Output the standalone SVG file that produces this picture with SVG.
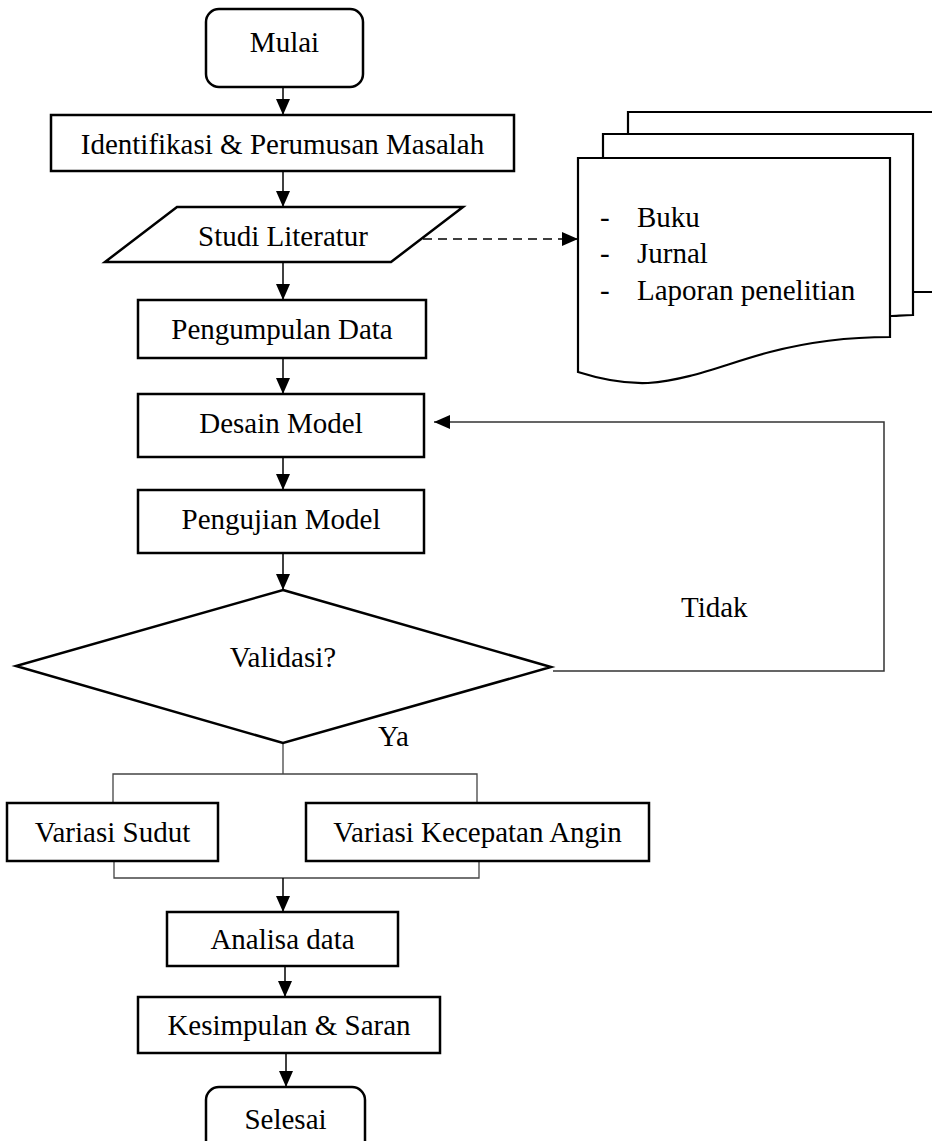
<svg xmlns="http://www.w3.org/2000/svg" width="932" height="1141" viewBox="0 0 932 1141">
<style>
.box{fill:#fff;stroke:#000;stroke-width:2.5}
.doc{fill:#fff;stroke:#000;stroke-width:2.2}
.t{font-family:"Liberation Serif","Times New Roman",serif;font-size:29px;fill:#000}
.c{text-anchor:middle}
.ln{fill:none;stroke:#000;stroke-width:1.5}
.br{fill:none;stroke:#444;stroke-width:1.3}
.lp{fill:none;stroke:#333;stroke-width:1.5}
</style>
<defs>
<marker id="ah" markerUnits="userSpaceOnUse" markerWidth="16" markerHeight="14" refX="16" refY="7" orient="auto">
<path d="M0,0 L16,7 L0,14 z" fill="#000"/>
</marker>
</defs>
<g id="connectors">
<line class="ln" x1="283" y1="87" x2="283" y2="115" marker-end="url(#ah)"/>
<line class="ln" x1="283" y1="171" x2="283" y2="207" marker-end="url(#ah)"/>
<line class="ln" x1="283" y1="262" x2="283" y2="300" marker-end="url(#ah)"/>
<line class="ln" x1="283" y1="358" x2="283" y2="394" marker-end="url(#ah)"/>
<line class="ln" x1="283" y1="457" x2="283" y2="490" marker-end="url(#ah)"/>
<line class="ln" x1="283" y1="553" x2="283" y2="590" marker-end="url(#ah)"/>
<line class="ln" x1="423" y1="239" x2="578" y2="239" stroke-dasharray="9,6" marker-end="url(#ah)"/>
<path class="lp" d="M553,671 H884 V422 H434" marker-end="url(#ah)"/>
<line class="br" x1="283" y1="743" x2="283" y2="774"/>
<path class="br" d="M113,802 V774 H477 V802"/>
<path class="br" d="M114,861 V878 H479 V861"/>
<line class="ln" x1="283" y1="878" x2="283" y2="912" marker-end="url(#ah)"/>
<line class="ln" x1="285" y1="966" x2="285" y2="997" marker-end="url(#ah)"/>
<line class="ln" x1="286" y1="1053" x2="286" y2="1087" marker-end="url(#ah)"/>
</g>
<g id="mulai">
<rect class="box" x="206" y="9" width="157" height="78" rx="13"/>
<text class="t c" x="284.5" y="52">Mulai</text>
</g>
<g id="identifikasi">
<rect class="box" x="51" y="115" width="463" height="56"/>
<text class="t c" x="282.5" y="154">Identifikasi &amp; Perumusan Masalah</text>
</g>
<g id="studi">
<polygon class="box" points="177,207 463,207 391,262 105,262"/>
<text class="t c" x="283" y="246">Studi Literatur</text>
</g>
<g id="dokumen">
<path class="doc" d="M628,134 V112 H945 V292 H913"/>
<path class="doc" d="M603,158 V134 H913 V315 C904,315 896,316 890,316"/>
<path class="doc" d="M578,158 H890 V337 C850,337 812,341 770,352 C725,364 690,380 648,383 C622,384 600,379 578,372 Z"/>
<text class="t" x="600" y="227">-</text>
<text class="t" x="637" y="227">Buku</text>
<text class="t" x="600" y="263">-</text>
<text class="t" x="637" y="263">Jurnal</text>
<text class="t" x="600" y="300">-</text>
<text class="t" x="637" y="300">Laporan penelitian</text>
</g>
<g id="pengumpulan">
<rect class="box" x="138" y="300" width="288" height="58"/>
<text class="t c" x="282" y="339">Pengumpulan Data</text>
</g>
<g id="desain">
<rect class="box" x="138" y="394" width="286" height="63"/>
<text class="t c" x="281" y="433">Desain Model</text>
</g>
<g id="pengujian">
<rect class="box" x="138" y="490" width="286" height="63"/>
<text class="t c" x="281" y="529">Pengujian Model</text>
</g>
<g id="validasi">
<polygon class="box" points="283,590 551,667 283,743 16,666"/>
<text class="t c" x="283" y="667">Validasi?</text>
<text class="t" x="378" y="746">Ya</text>
<text class="t" x="681" y="617">Tidak</text>
</g>
<g id="sudut">
<rect class="box" x="7" y="803" width="211" height="58"/>
<text class="t c" x="112.5" y="842">Variasi Sudut</text>
</g>
<g id="kecepatan">
<rect class="box" x="306" y="803" width="343" height="58"/>
<text class="t c" x="477.5" y="842">Variasi Kecepatan Angin</text>
</g>
<g id="analisa">
<rect class="box" x="167" y="912" width="231" height="54"/>
<text class="t c" x="282.5" y="949">Analisa data</text>
</g>
<g id="kesimpulan">
<rect class="box" x="138" y="997" width="302" height="56"/>
<text class="t c" x="289" y="1035">Kesimpulan &amp; Saran</text>
</g>
<g id="selesai">
<rect class="box" x="206" y="1087" width="159" height="70" rx="13"/>
<text class="t c" x="285.5" y="1129">Selesai</text>
</g>
</svg>
